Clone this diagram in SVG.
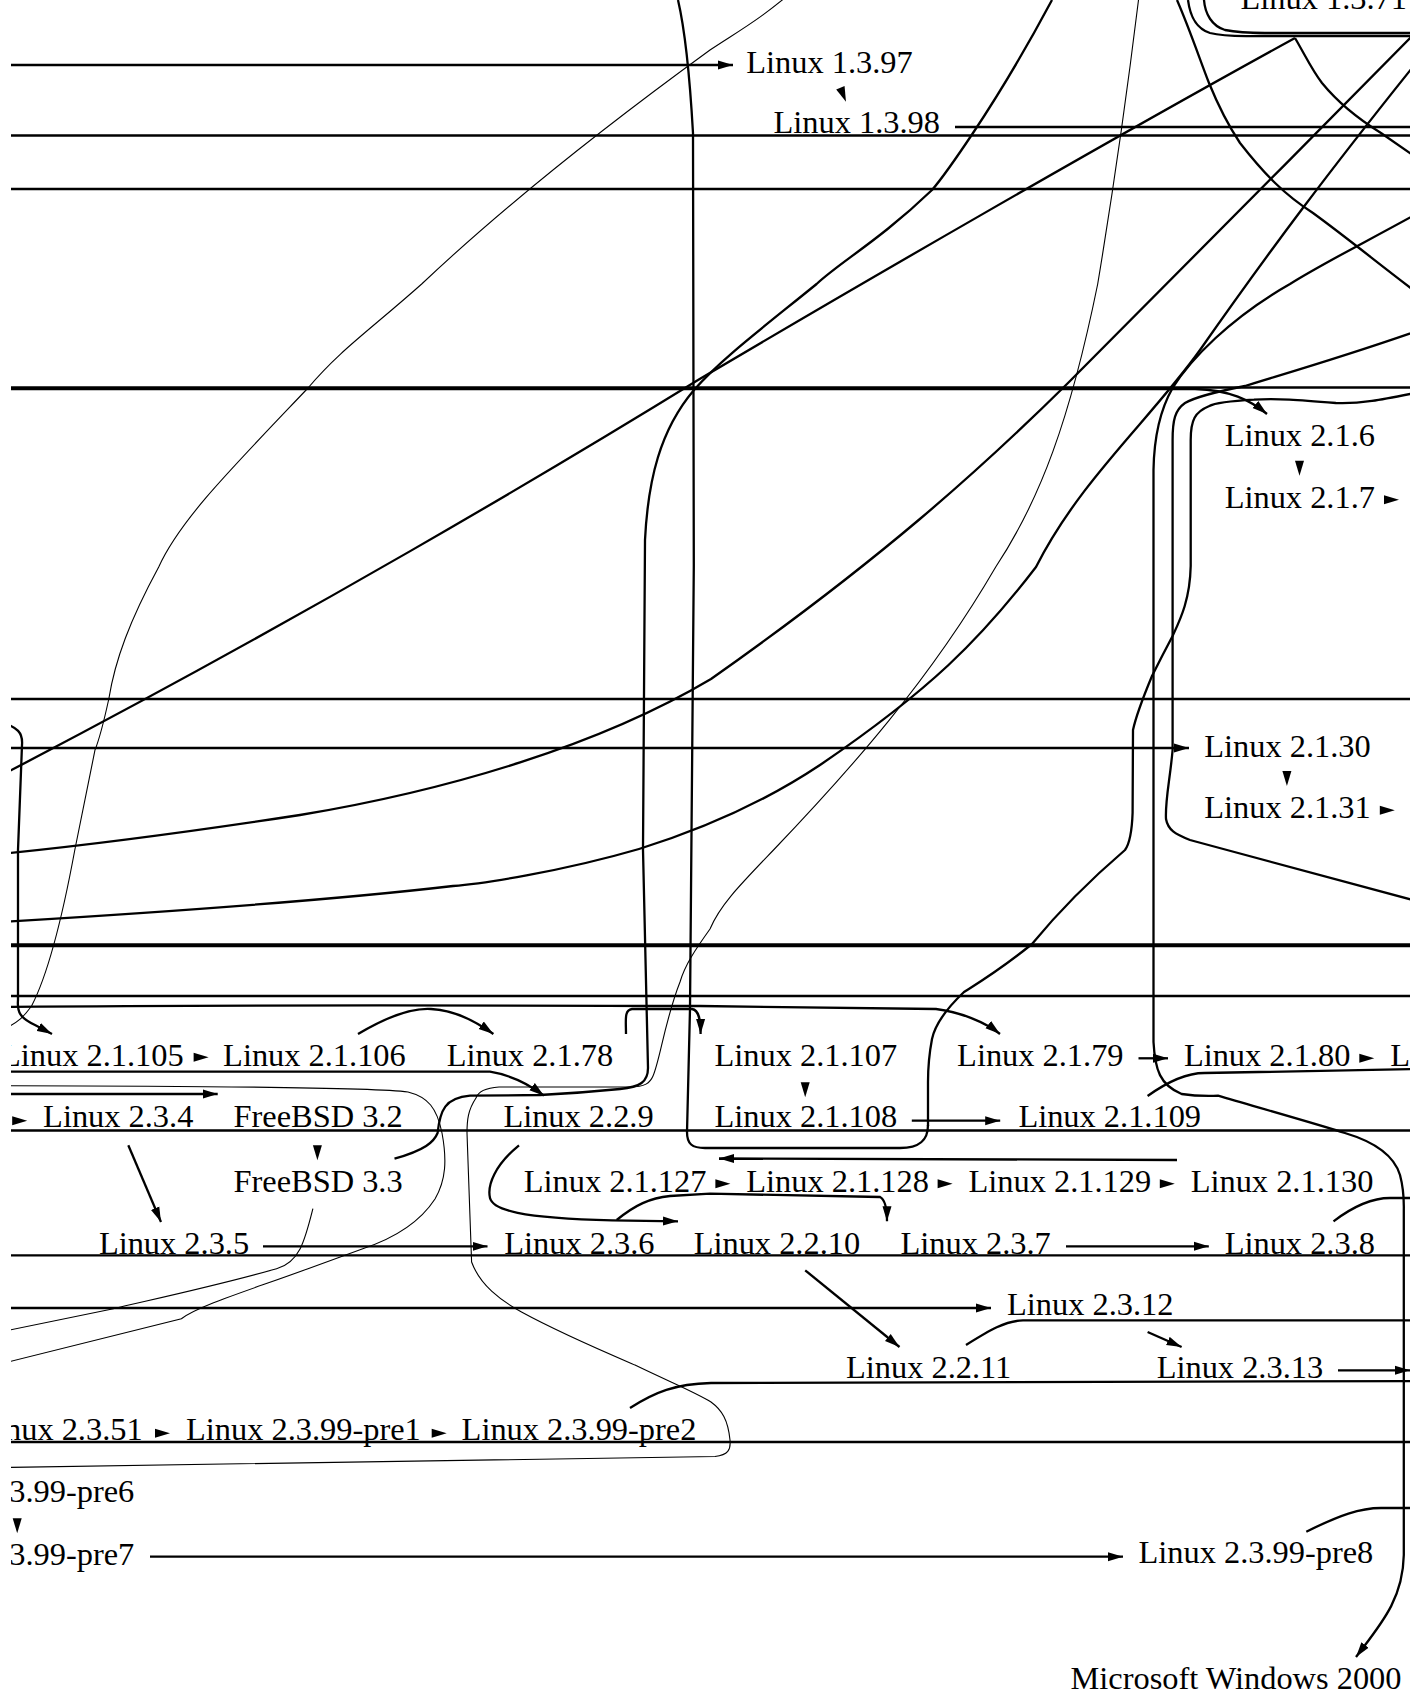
<svg xmlns="http://www.w3.org/2000/svg" xmlns:xlink="http://www.w3.org/1999/xlink" width="1421" height="1700" viewBox="0 0 1421 1700">
<style>
text{font-family:"Liberation Serif","Times New Roman",serif;font-size:32.4px;fill:#000}
.e{fill:none;stroke:#000;stroke-width:2.3}
.t{fill:none;stroke:#000;stroke-width:1.1}
</style>
<defs>
<clipPath id="clip"><rect x="11" y="0" width="1399" height="1700"/></clipPath>
<marker id="arr" viewBox="0 -5 15 10" refX="15" refY="0" markerWidth="15" markerHeight="10" markerUnits="userSpaceOnUse" orient="auto"><path d="M0,-4.5 L15,0 L0,4.5 z" fill="#000"/></marker>
<polygon id="ah" points="-15,-4.5 0,0 -15,4.5" fill="#000"/>
</defs>
<rect width="1421" height="1700" fill="#fff"/>
<g clip-path="url(#clip)">
<g id="connectors">
<path class="e" d="M0,65 H733" marker-end="url(#arr)"/>
<use xlink:href="#ah" transform="translate(846,101.7) rotate(68)"/>
<path class="e" d="M0,135.5 H1420"/>
<path class="e" d="M955,127 H1420"/>
<path class="e" d="M0,189 H1420"/>
<path class="e" d="M0,387.5 H1420"/>
<path class="e" d="M0,389 H1195 C1230,390 1250,400 1267,414" marker-end="url(#arr)"/>
<use xlink:href="#ah" transform="translate(1299.5,475.7) rotate(90)"/>
<use xlink:href="#ah" transform="translate(1399,499.7)"/>
<path class="e" d="M0,699 H1420"/>
<path class="e" d="M0,748 H1189" marker-end="url(#arr)"/>
<use xlink:href="#ah" transform="translate(1286.9,786) rotate(90)"/>
<use xlink:href="#ah" transform="translate(1394.8,810.3)"/>
<path class="e" d="M0,944.5 H1420"/>
<path class="e" d="M0,946 H1420"/>
<path class="e" d="M0,996 H1420"/>
<path class="e" d="M0,1007 C300,1004 600,1006 700,1006 L936,1009 C960,1012 985,1022 1000,1034" marker-end="url(#arr)"/>
<path class="e" d="M626,1034 C626,1020 624,1010 632,1009 L692,1009 C699,1010 700.6,1020 700.6,1034" marker-end="url(#arr)"/>
<path class="e" d="M0,1130.5 H1420"/>
<path class="e" d="M0,1255.3 H1420"/>
<path class="e" d="M0,1308 H991" marker-end="url(#arr)"/>
<path class="e" d="M0,1442 H1420"/>
<path class="e" d="M150,1556.7 H1123" marker-end="url(#arr)"/>
<path class="e" d="M1295,38 C1100,145 850,290 698,380 C560,465 300,620 0,776"/>
<path class="e" d="M1420,28 C1300,150 1200,250 1068,383 C980,470 880,560 711,679 C600,745 450,790 300,815 C150,838 60,848 0,854"/>
<path class="e" d="M1420,58 C1330,170 1270,250 1200,350 C1150,420 1080,480 1036,567 C980,640 930,690 820,765 C760,805 700,830 639,849 C560,872 480,884 453,886 C350,898 200,910 0,922"/>
<path class="t" d="M800,-15 C760,20 740,30 710,50 C600,130 500,210 421.7,284 C370,330 340,350 308,388 C230,470 180,520 158.7,567 C130,620 115,660 108.8,699 C102,730 99,740 95,750 L74.8,850 C60,930 45,980 31.7,1005.7 C25,1015 18,1024 0,1030"/>
<path class="e" d="M1052,0 C1020,60 995,100 973,133 C955,160 945,175 932,190 C880,240 840,262 816.6,284 C760,330 720,360 694,390 C660,430 648,480 645,540 L643,850 L648,1068 C648,1082 640,1087 620,1089 C590,1092 560,1094 540,1095 L470,1095.7 C445,1098 440,1110 437.6,1133 C434,1142 425,1150 394.5,1158.7"/>
<path class="e" d="M678,0 C685,30 690,80 693,133 L693.8,566 L690,1009 L687,1132 C687,1144 692,1148 705,1148 L900,1148 C920,1148 928,1140 928,1125"/>
<path class="e" d="M1177,1160 L719,1158.5" marker-end="url(#arr)"/>
<path class="t" d="M1138.5,0 C1125,110 1110,210 1097.7,284 C1070,420 1040,500 995.7,567 C930,680 850,770 773.5,850 C740,885 720,905 710,929 C695,950 685,965 680,982 C665,1020 660,1060 653,1076 C650,1083 645,1087 630,1087 L499,1087 C485,1088 478,1092 476,1098 C468,1110 467,1120 467,1133 L471.6,1262 C480,1285 500,1300 521.5,1312 C560,1333 600,1350 635,1365 C670,1382 695,1392 711,1402 C722,1410 728,1420 730,1440 C731,1450 728,1455 715,1456.5 L0,1467.5"/>
<path class="e" d="M1177,0 C1190,30 1200,60 1209,83 C1220,110 1228,125 1240,143 C1265,175 1285,195 1313,213 C1350,240 1380,265 1420,295"/>
<path class="e" d="M1295,38 C1305,55 1312,70 1322,83 C1340,105 1360,120 1381,133 L1420,160"/>
<path class="e" d="M1188,0 C1190,15 1195,28 1210,33 C1225,37 1240,36 1260,36 L1420,36"/>
<path class="e" d="M1204,0 C1205,14 1212,26 1225,30 C1240,33 1250,33 1265,33 L1420,33"/>
<path class="e" d="M1420,212 C1360,245 1320,265 1290,284 C1230,318 1190,360 1172.6,388 C1160,410 1154,440 1153.5,470 L1153.5,1042 C1155,1070 1160,1085 1181.6,1094 C1195,1096 1210,1096 1218,1095.7 C1260,1108 1320,1125 1344.9,1133 C1375,1142 1394,1155 1400,1175 C1404,1190 1404,1200 1403.8,1210 L1403.8,1555 C1403,1600 1380,1625 1356,1657" marker-end="url(#arr)"/>
<path class="e" d="M1420,330 C1340,358 1280,375 1245,386 C1215,392 1195,397 1185,403 C1175,410 1172.6,420 1172.6,440 L1172.6,750 C1170,780 1165,800 1166,819 C1168,830 1175,834 1190,840 L1227,850 C1300,870 1370,888 1420,902"/>
<path class="e" d="M1420,392 C1380,400 1360,404 1335.8,403 C1300,400 1275,398 1254,399.7 C1230,401 1215,403 1208.8,406.3 C1195,412 1190.7,420 1190.7,440 L1190.7,566 C1190,600 1180,620 1172.6,636 C1162,656 1156,668 1152,676 C1142,700 1136,716 1133,730 L1132.6,812.7 C1132,830 1130,843 1125,850 C1090,880 1060,910 1032,944 C1000,970 975,985 964,992 C945,1010 935,1025 932,1039 C928,1060 928,1075 928,1082 L928,1126"/>
<path class="e" d="M0,722 C18,727 23,733 22,745 L18,850 L18,1000 C17,1012 20,1018 35,1025 L52,1034" marker-end="url(#arr)"/>
<use xlink:href="#ah" transform="translate(208.6,1057.3)"/>
<path class="e" d="M358,1034 C390,1015 415,1008 431,1009 C455,1010 478,1023 493.4,1034" marker-end="url(#arr)"/>
<use xlink:href="#ah" transform="translate(805.2,1097.3) rotate(90)"/>
<path class="e" d="M1138.5,1058.3 H1168" marker-end="url(#arr)"/>
<use xlink:href="#ah" transform="translate(1374.3,1058.3)"/>
<path class="e" d="M0,1071.7 H490 C510,1075 530,1085 544,1095.7" marker-end="url(#arr)"/>
<path class="t" d="M0,1085.7 C200,1086 380,1088 408,1092 C428,1097 437,1108 442,1133 C447,1160 446,1180 435,1199 C420,1222 395,1238 362.8,1248.7 L308,1268.7 C250,1290 200,1305 181.4,1318.7 L0,1364"/>
<path class="e" d="M0,1094 H217.7" marker-end="url(#arr)"/>
<use xlink:href="#ah" transform="translate(27.2,1120.7)"/>
<path class="e" d="M911.8,1120.7 H1000.2" marker-end="url(#arr)"/>
<path class="e" d="M1147.6,1096 C1170,1080 1190,1073 1204.3,1073 L1420,1069"/>
<path class="e" d="M128.3,1145.3 L161,1222" marker-end="url(#arr)"/>
<use xlink:href="#ah" transform="translate(317.4,1160.3) rotate(90)"/>
<path class="t" d="M312.9,1208.7 C305,1240 300,1262 276.6,1268.7 C220,1285 150,1300 113.4,1308.7 L0,1332"/>
<use xlink:href="#ah" transform="translate(730.4,1183.7)"/>
<use xlink:href="#ah" transform="translate(952.6,1183.7)"/>
<use xlink:href="#ah" transform="translate(1174.8,1183.7)"/>
<path class="e" d="M519,1145.3 C495,1165 487,1185 490,1198 C493,1210 520,1218 612,1220.3 L678,1221.3" marker-end="url(#arr)"/>
<path class="e" d="M616.7,1220 C635,1205 650,1198 670,1196 L710,1193.7 L880,1197 C886,1200 887,1210 887,1221.3" marker-end="url(#arr)"/>
<path class="e" d="M263,1246.3 H487.5" marker-end="url(#arr)"/>
<path class="e" d="M1066,1246.3 H1208.8" marker-end="url(#arr)"/>
<path class="e" d="M1333.5,1221.3 C1355,1205 1375,1198 1390,1198 H1420"/>
<path class="e" d="M805.2,1270.3 L899.5,1347" marker-end="url(#arr)"/>
<path class="e" d="M1147.6,1332 L1181.6,1347" marker-end="url(#arr)"/>
<path class="e" d="M966,1345 C990,1330 1005,1321 1023,1320.3 H1420"/>
<path class="e" d="M1338,1370.3 H1410" marker-end="url(#arr)"/>
<path class="e" d="M630,1408 C655,1392 675,1384 711,1383 L1420,1381"/>
<use xlink:href="#ah" transform="translate(170,1433.3)"/>
<use xlink:href="#ah" transform="translate(446.7,1433.3)"/>
<use xlink:href="#ah" transform="translate(17.2,1533.3) rotate(90)"/>
<path class="e" d="M1306.3,1531.7 C1340,1515 1360,1508 1381,1508 H1420"/>
</g>
<g id="n1371"><text x="1240.5" y="9.3">Linux 1.3.71</text></g>
<g id="n1397"><text x="746.3" y="72.7">Linux 1.3.97</text></g>
<g id="n1398"><text x="773.5" y="133.3">Linux 1.3.98</text></g>
<g id="n216"><text x="1224.7" y="446.3">Linux 2.1.6</text></g>
<g id="n217"><text x="1224.7" y="508">Linux 2.1.7</text></g>
<g id="n2130"><text x="1204.3" y="756.7">Linux 2.1.30</text></g>
<g id="n2131"><text x="1204.3" y="817.7">Linux 2.1.31</text></g>
<g id="n21105"><text x="1" y="1065.7">Linux 2.1.105</text></g>
<g id="n21106"><text x="223.1" y="1065.7">Linux 2.1.106</text></g>
<g id="n2178"><text x="446.7" y="1065.7">Linux 2.1.78</text></g>
<g id="n21107"><text x="714.5" y="1065.7">Linux 2.1.107</text></g>
<g id="n2179"><text x="957.1" y="1065.7">Linux 2.1.79</text></g>
<g id="n2180"><text x="1183.9" y="1065.7">Linux 2.1.80</text></g>
<g id="n2181"><text x="1390.2" y="1065.7">Linux 2.1.81</text></g>
<g id="n234"><text x="43.1" y="1127.3">Linux 2.3.4</text></g>
<g id="nfb32"><text x="233.5" y="1127.3">FreeBSD 3.2</text></g>
<g id="n229"><text x="503.4" y="1127.3">Linux 2.2.9</text></g>
<g id="n21108"><text x="714.5" y="1127.3">Linux 2.1.108</text></g>
<g id="n21109"><text x="1018.4" y="1127.3">Linux 2.1.109</text></g>
<g id="nfb33"><text x="233.5" y="1192">FreeBSD 3.3</text></g>
<g id="n21127"><text x="523.8" y="1192">Linux 2.1.127</text></g>
<g id="n21128"><text x="746.3" y="1192">Linux 2.1.128</text></g>
<g id="n21129"><text x="968.5" y="1192">Linux 2.1.129</text></g>
<g id="n21130"><text x="1190.7" y="1192">Linux 2.1.130</text></g>
<g id="n235"><text x="98.9" y="1253.7">Linux 2.3.5</text></g>
<g id="n236"><text x="504.3" y="1253.7">Linux 2.3.6</text></g>
<g id="n2210"><text x="693.7" y="1253.7">Linux 2.2.10</text></g>
<g id="n237"><text x="900.5" y="1253.7">Linux 2.3.7</text></g>
<g id="n238"><text x="1224.7" y="1253.7">Linux 2.3.8</text></g>
<g id="n2312"><text x="1007" y="1315.3">Linux 2.3.12</text></g>
<g id="n2211"><text x="846" y="1378">Linux 2.2.11</text></g>
<g id="n2313"><text x="1156.7" y="1378">Linux 2.3.13</text></g>
<g id="n2351"><text x="-23.8" y="1440">Linux 2.3.51</text></g>
<g id="npre1"><text x="186" y="1440">Linux 2.3.99-pre1</text></g>
<g id="npre2"><text x="461.6" y="1440">Linux 2.3.99-pre2</text></g>
<g id="npre6"><text x="-100.5" y="1501.7">Linux 2.3.99-pre6</text></g>
<g id="npre7"><text x="-100.5" y="1565">Linux 2.3.99-pre7</text></g>
<g id="npre8"><text x="1138.5" y="1563.3">Linux 2.3.99-pre8</text></g>
<g id="nw2k"><text x="1070.5" y="1689">Microsoft Windows 2000</text></g>
</g>
</svg>
